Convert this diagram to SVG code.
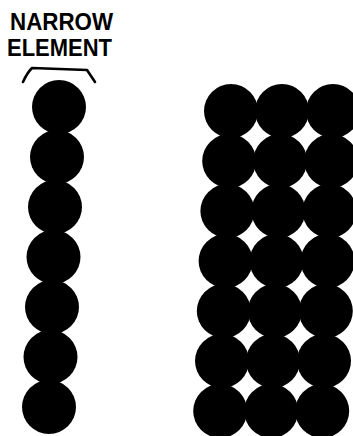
<svg xmlns="http://www.w3.org/2000/svg" width="353" height="436" viewBox="0 0 353 436">
<style>
.dot{fill:#000}
.lbl{font-family:"Liberation Sans",Arial,sans-serif;font-weight:bold;font-size:23px;fill:#000}
.br{fill:none;stroke:#000;stroke-width:2.6;stroke-linecap:round;stroke-linejoin:round}
</style>
<rect width="353" height="436" fill="#fff"/>
<g id="label">
<text class="lbl" x="10" y="29.5" textLength="103" lengthAdjust="spacingAndGlyphs">NARROW</text>
<text class="lbl" x="7" y="55.5" textLength="105" lengthAdjust="spacingAndGlyphs">ELEMENT</text>
<path class="br" d="M23,82 Q27,73 32,68 L87,70 L95,82"/>
</g>
<g id="narrow-element">
<circle class="dot" cx="59" cy="107" r="27"/>
<circle class="dot" cx="57" cy="157" r="27"/>
<circle class="dot" cx="55" cy="207" r="27"/>
<circle class="dot" cx="53.5" cy="257" r="27"/>
<circle class="dot" cx="52" cy="307" r="27"/>
<circle class="dot" cx="50.5" cy="357" r="27"/>
<circle class="dot" cx="49" cy="407" r="27"/>
</g>
<g id="wide-element">
<circle class="dot" cx="231" cy="111" r="27"/><circle class="dot" cx="282" cy="111" r="27"/><circle class="dot" cx="333" cy="111" r="27"/>
<circle class="dot" cx="229.2" cy="161" r="27"/><circle class="dot" cx="280.2" cy="161" r="27"/><circle class="dot" cx="331.2" cy="161" r="27"/>
<circle class="dot" cx="227.4" cy="211" r="27"/><circle class="dot" cx="278.4" cy="211" r="27"/><circle class="dot" cx="329.4" cy="211" r="27"/>
<circle class="dot" cx="225.6" cy="261" r="27"/><circle class="dot" cx="276.6" cy="261" r="27"/><circle class="dot" cx="327.6" cy="261" r="27"/>
<circle class="dot" cx="223.8" cy="311" r="27"/><circle class="dot" cx="274.8" cy="311" r="27"/><circle class="dot" cx="325.8" cy="311" r="27"/>
<circle class="dot" cx="222" cy="361" r="27"/><circle class="dot" cx="273" cy="361" r="27"/><circle class="dot" cx="324" cy="361" r="27"/>
<circle class="dot" cx="220.2" cy="411" r="27"/><circle class="dot" cx="271.2" cy="411" r="27"/><circle class="dot" cx="322.2" cy="411" r="27"/>
</g>
</svg>
